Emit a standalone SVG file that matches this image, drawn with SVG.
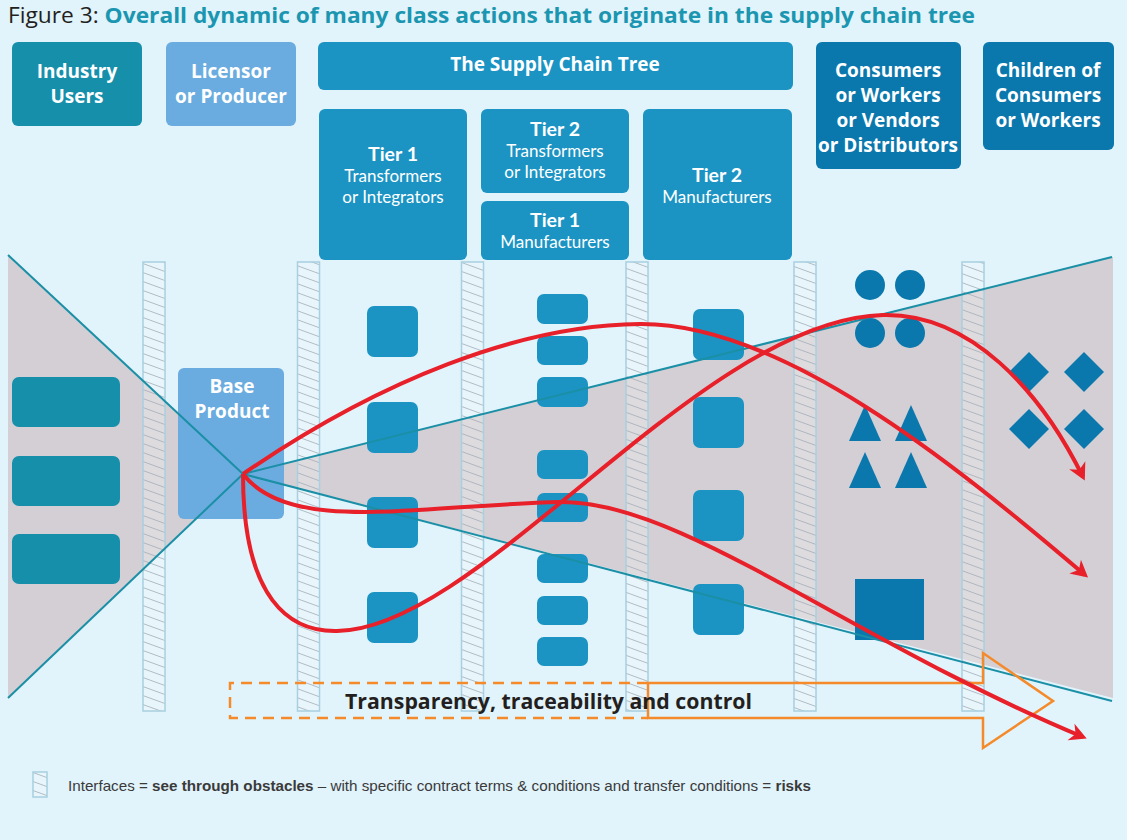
<svg xmlns="http://www.w3.org/2000/svg" width="1127" height="840" viewBox="0 0 1127 840">
<defs>
<pattern id="hatch" patternUnits="userSpaceOnUse" width="40" height="9" patternTransform="skewY(20)">
<line x1="0" y1="4.5" x2="40" y2="4.5" stroke="#a3adb6" stroke-width="1" stroke-opacity="0.8"/>
</pattern>
<marker id="ah" markerUnits="userSpaceOnUse" markerWidth="26" markerHeight="26" viewBox="-18 -13 26 26" refX="0" refY="0" orient="auto">
<path d="M4,0 L-13,-9 L-8,0 L-13,9 Z" fill="#e8202a"/>
</marker>
</defs>
<style>
.bg{fill:#e1f3fb}
.gray{fill:#d3cfd5}
.col-fill{fill:#ffffff;fill-opacity:0.25}
.col-hatch{fill:url(#hatch)}
.col-edge{fill:none;stroke:#a8d0e0;stroke-width:1.5}
.teal{fill:#168fab}
.lic{fill:#6aacdf}
.sct{fill:#1b94c4}
.dark{fill:#0a78ad}
.hd{font-family:"Open Sans","Noto Sans",sans-serif;font-weight:700;font-size:19px;fill:#ffffff;text-anchor:middle}
.tr{font-family:Lato,"Open Sans",sans-serif;font-weight:700;font-size:19.5px;fill:#ffffff;text-anchor:middle}
.sub{font-family:Lato,"Open Sans",sans-serif;font-weight:400;font-size:17px;fill:#ffffff;text-anchor:middle}
.edge{fill:none;stroke:#1a8fa6;stroke-width:2}
.red{fill:none;stroke:#e8202a;stroke-width:4;marker-end:url(#ah)}
.org{fill:none;stroke:#f58a2a;stroke-width:2.5}
</style>
<rect class="bg" x="0" y="0" width="1127" height="840"/>

<text x="8" y="23" font-family="'Open Sans','Noto Sans',sans-serif" font-size="21px" textLength="967" lengthAdjust="spacingAndGlyphs"><tspan fill="#231f20">Figure 3: </tspan><tspan fill="#1b96b0" font-weight="700">Overall dynamic of many class actions that originate in the supply chain tree</tspan></text>

<g id="funnel">
<polygon class="gray" points="8,255 243,474 8,698"/>
<polygon class="gray" points="243,474 1113,257 1113,698"/>
</g>

<g id="interfaces">
<g><rect class="col-fill" x="143" y="262" width="22" height="449"/><rect class="col-hatch" x="143" y="262" width="22" height="449"/><rect class="col-edge" x="143" y="262" width="22" height="449"/></g>
<g><rect class="col-fill" x="297.5" y="262" width="22" height="449"/><rect class="col-hatch" x="297.5" y="262" width="22" height="449"/><rect class="col-edge" x="297.5" y="262" width="22" height="449"/></g>
<g><rect class="col-fill" x="461.5" y="262" width="22" height="449"/><rect class="col-hatch" x="461.5" y="262" width="22" height="449"/><rect class="col-edge" x="461.5" y="262" width="22" height="449"/></g>
<g><rect class="col-fill" x="626" y="262" width="22" height="449"/><rect class="col-hatch" x="626" y="262" width="22" height="449"/><rect class="col-edge" x="626" y="262" width="22" height="449"/></g>
<g><rect class="col-fill" x="794" y="262" width="22" height="449"/><rect class="col-hatch" x="794" y="262" width="22" height="449"/><rect class="col-edge" x="794" y="262" width="22" height="449"/></g>
<g><rect class="col-fill" x="962" y="262" width="22" height="449"/><rect class="col-hatch" x="962" y="262" width="22" height="449"/><rect class="col-edge" x="962" y="262" width="22" height="449"/></g>
</g>

<g id="industry-users">
<rect class="teal" x="12" y="42" width="130" height="84" rx="6"/>
<text class="hd" x="77" y="78">Industry</text>
<text class="hd" x="77" y="103">Users</text>
</g>
<g id="licensor">
<rect class="lic" x="166" y="42" width="130" height="84" rx="6"/>
<text class="hd" x="231" y="78">Licensor</text>
<text class="hd" x="231" y="103">or Producer</text>
</g>
<g id="supply-chain-tree">
<rect class="sct" x="318" y="42" width="475" height="48" rx="6"/>
<text class="hd" x="555" y="71" font-size="20px">The Supply Chain Tree</text>
</g>
<g id="tier1-ti">
<rect class="sct" x="319" y="109" width="148" height="151" rx="6"/>
<text class="tr" x="393" y="161">Tier 1</text>
<text class="sub" x="393" y="182">Transformers</text>
<text class="sub" x="393" y="203">or Integrators</text>
</g>
<g id="tier2-ti">
<rect class="sct" x="481" y="109" width="148" height="84" rx="6"/>
<text class="tr" x="555" y="135.5">Tier 2</text>
<text class="sub" x="555" y="156.5">Transformers</text>
<text class="sub" x="555" y="177.5">or Integrators</text>
</g>
<g id="tier1-m">
<rect class="sct" x="481" y="201" width="148" height="59" rx="6"/>
<text class="tr" x="555" y="227">Tier 1</text>
<text class="sub" x="555" y="248">Manufacturers</text>
</g>
<g id="tier2-m">
<rect class="sct" x="643" y="109" width="149" height="151" rx="6"/>
<text class="tr" x="717" y="182">Tier 2</text>
<text class="sub" x="717" y="203">Manufacturers</text>
</g>
<g id="consumers">
<rect class="dark" x="816" y="42" width="145" height="127" rx="6"/>
<text class="hd" x="888" y="77">Consumers</text>
<text class="hd" x="888" y="102">or Workers</text>
<text class="hd" x="888" y="127">or Vendors</text>
<text class="hd" x="888" y="152">or Distributors</text>
</g>
<g id="children">
<rect class="dark" x="983" y="42" width="131" height="108" rx="6"/>
<text class="hd" x="1048" y="77">Children of</text>
<text class="hd" x="1048" y="102">Consumers</text>
<text class="hd" x="1048" y="127">or Workers</text>
</g>

<g id="users-items">
<rect class="teal" x="12" y="377" width="108" height="50" rx="7"/>
<rect class="teal" x="12" y="456" width="108" height="50" rx="7"/>
<rect class="teal" x="12" y="534" width="108" height="50" rx="7"/>
</g>
<g id="base-product">
<rect class="lic" x="178" y="368" width="106" height="151" rx="6"/>
<text class="hd" x="232" y="393">Base</text>
<text class="hd" x="232" y="418">Product</text>
</g>
<g id="tier1-items">
<rect class="sct" x="367" y="306" width="51" height="51" rx="7"/>
<rect class="sct" x="367" y="402" width="51" height="51" rx="7"/>
<rect class="sct" x="367" y="497" width="51" height="51" rx="7"/>
<rect class="sct" x="367" y="592" width="51" height="51" rx="7"/>
</g>
<g id="tier2-items">
<rect class="sct" x="537" y="294" width="51" height="30" rx="7"/>
<rect class="sct" x="537" y="336" width="51" height="29" rx="7"/>
<rect class="sct" x="537" y="377" width="51" height="30" rx="7"/>
<rect class="sct" x="537" y="450" width="51" height="29" rx="7"/>
<rect class="sct" x="537" y="493" width="51" height="29" rx="7"/>
<rect class="sct" x="537" y="554" width="51" height="29" rx="7"/>
<rect class="sct" x="537" y="596" width="51" height="29" rx="7"/>
<rect class="sct" x="537" y="637" width="51" height="29" rx="7"/>
</g>
<g id="tier2m-items">
<rect class="sct" x="693" y="309" width="51" height="51" rx="7"/>
<rect class="sct" x="693" y="397" width="51" height="51" rx="7"/>
<rect class="sct" x="693" y="490" width="51" height="51" rx="7"/>
<rect class="sct" x="693" y="584" width="51" height="51" rx="7"/>
</g>
<g id="consumer-items">
<circle class="dark" cx="870" cy="285" r="15"/>
<circle class="dark" cx="910" cy="285" r="15"/>
<circle class="dark" cx="870" cy="333" r="15"/>
<circle class="dark" cx="910" cy="333" r="15"/>
<polygon class="dark" points="865,405 881,441 849,441"/>
<polygon class="dark" points="911,405 927,441 895,441"/>
<polygon class="dark" points="865,452 881,488 849,488"/>
<polygon class="dark" points="911,452 927,488 895,488"/>
<rect class="dark" x="855" y="579" width="69" height="61"/>
</g>
<g id="children-items">
<polygon class="dark" points="1029,352 1049,372 1029,392 1009,372"/>
<polygon class="dark" points="1084,352 1104,372 1084,392 1064,372"/>
<polygon class="dark" points="1029,409 1049,429 1029,449 1009,429"/>
<polygon class="dark" points="1084,409 1104,429 1084,449 1064,429"/>
</g>

<g id="funnel-edges">
<line class="edge" x1="8" y1="255" x2="243" y2="474"/>
<line class="edge" x1="243" y1="474" x2="8" y2="698"/>
<line class="edge" x1="243" y1="474" x2="1112" y2="257"/>
<line class="edge" x1="243" y1="474" x2="1112" y2="701"/>
</g>

<g id="transparency">
<path class="org" d="M648,683 L230,683 L230,718 L648,718" stroke-dasharray="11,7"/>
<path class="org" d="M648,683 L983,683 L983,653 L1053,701 L983,748 L983,718 L648,718 Z"/>
<text x="345" y="709" font-family="'Open Sans','Noto Sans',sans-serif" font-weight="700" font-size="21.5px" fill="#231f20" textLength="407" lengthAdjust="spacingAndGlyphs">Transparency, traceability and control</text>
</g>

<g id="connectors">
<path class="red" d="M243,474 C380,380 520,325 640,324 C780,323 950,460 1085,575"/>
<path class="red" d="M243,474 C243,600 290,632 337,631 C480,630 700,320 883,315 C970,313 1040,390 1083,477"/>
<path class="red" d="M243,474 C290,535 420,505 560,502 C680,500 850,640 1083,737"/>
</g>

<g id="legend">
<rect class="col-fill" x="33" y="772" width="14" height="25"/>
<rect class="col-hatch" x="33" y="772" width="14" height="25"/>
<rect class="col-edge" x="33" y="772" width="14" height="25"/>
<text x="68" y="791" font-family="'Liberation Sans',sans-serif" font-size="15px" fill="#3a3a3a" textLength="743" lengthAdjust="spacingAndGlyphs">Interfaces = <tspan font-weight="700">see through obstacles</tspan> – with specific contract terms &amp; conditions and transfer conditions = <tspan font-weight="700">risks</tspan></text>
</g>
</svg>
